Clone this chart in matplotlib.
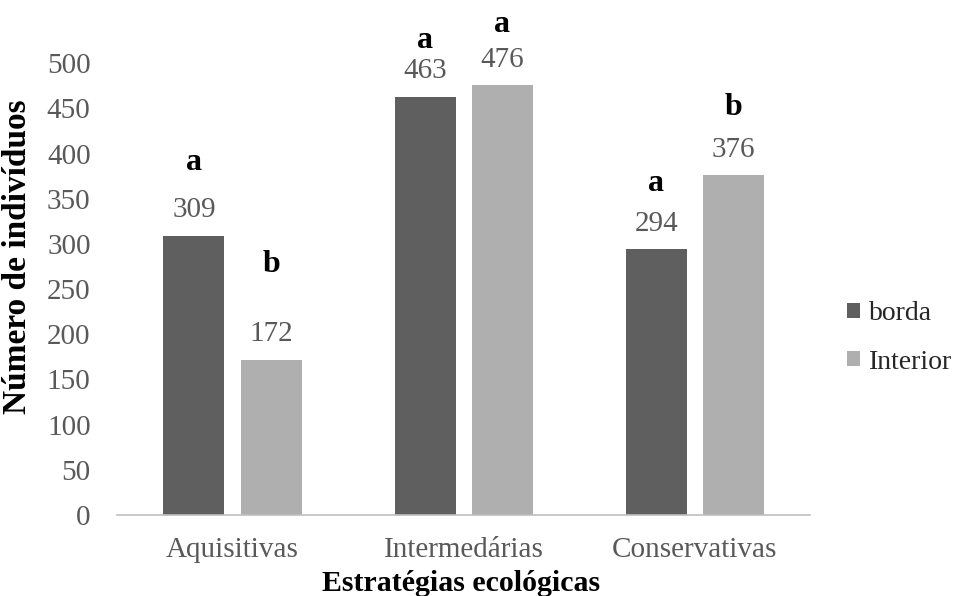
import numpy as np
import matplotlib
matplotlib.use("Agg")
import matplotlib.pyplot as plt

plt.rcParams['font.family'] = ['Liberation Serif', 'DejaVu Serif']

# dados
estrategias = ["Aquisitivas", "Intermedárias", "Conservativas"]
borda = [309, 463, 294]
interior = [172, 476, 376]
letras_borda = ["a", "a", "a"]
letras_interior = ["b", "a", "b"]

# afstand van de letter boven de balk (layout)
off_borda = [81, 62, 73]
off_interior = [105, 67, 75]

cor_borda = "#5f5f5f"
cor_interior = "#afafaf"
cor_texto = "#595959"

fig = plt.figure(figsize=(9.59, 5.96), dpi=100)
ax = fig.add_axes([0.122, 0.136, 0.723, 0.758])

x = np.arange(len(estrategias))
w = 0.264
d = 0.167
ax.bar(x - d, borda, w, color=cor_borda, label="borda")
ax.bar(x + d, interior, w, color=cor_interior, label="Interior")

for i in range(len(x)):
    ax.text(x[i] - d, borda[i] + 28, str(borda[i]), ha="center", va="center",
            fontsize=21, color=cor_texto)
    ax.text(x[i] + d, interior[i] + 28, str(interior[i]), ha="center", va="center",
            fontsize=21, color=cor_texto)
    ax.text(x[i] - d, borda[i] + off_borda[i], letras_borda[i], ha="center", va="center",
            fontsize=23, fontweight="bold", color="black", clip_on=False)
    ax.text(x[i] + d, interior[i] + off_interior[i], letras_interior[i], ha="center", va="center",
            fontsize=23, fontweight="bold", color="black", clip_on=False)

ax.set_xlim(-0.5, 2.5)
ax.set_ylim(0, 500)
ax.set_yticks(np.arange(0, 501, 50))
ax.set_xticks(x)
ax.set_xticklabels(estrategias)
ax.tick_params(axis="both", length=0, labelsize=21, labelcolor=cor_texto)
ax.tick_params(axis="y", pad=19)
ax.tick_params(axis="x", pad=16)

for s in ["top", "right", "left"]:
    ax.spines[s].set_visible(False)
ax.spines["bottom"].set_color("#bfbfbf")
ax.spines["bottom"].set_linewidth(1.2)

ax.set_ylabel("Número de indivíduos", fontsize=24, fontweight="bold")
ax.yaxis.set_label_coords(-0.121, 0.571)
ax.set_xlabel("Estratégias ecológicas", fontsize=21.5, fontweight="bold")
ax.xaxis.set_label_coords(0.496, -0.122)

leg = ax.legend(loc="center left", bbox_to_anchor=(1.053, 0.392), frameon=False,
                fontsize=20, handlelength=0.47, handleheight=0.47, handletextpad=0.32,
                labelspacing=0.85, borderpad=0, borderaxespad=0)
for t in leg.get_texts():
    t.set_color("#262626")

fig.savefig("out.png", dpi=100)
